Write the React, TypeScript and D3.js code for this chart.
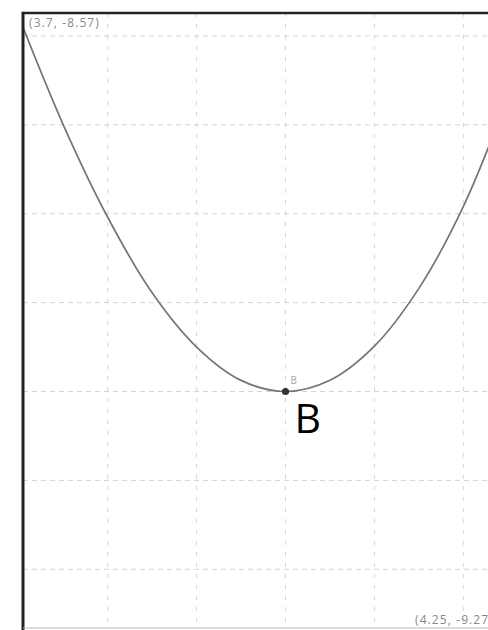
import React from "react";
import * as d3 from "d3";

// Curve samples (x, y) along the plotted function
const curveX = [3.705, 3.75, 3.8, 3.85, 3.9, 3.95, 4.0, 4.05, 4.1, 4.15, 4.2, 4.25];
const curveY = [-8.591, -8.7, -8.804, -8.889, -8.95, -8.9875, -9.0, -8.9874, -8.949, -8.884, -8.792, -8.669];

// Marked point
const pointName = "B";
const pointX = [4.0];
const pointY = [-9.0];

// Grid line positions
const gridX = [3.8, 3.9, 4.0, 4.1, 4.2];
const gridY = [-8.6, -8.7, -8.8, -8.9, -9.0, -9.1, -9.2];

// Viewport corner labels
const cornerLabels = ["(3.7, -8.57)", "(4.25, -9.27)"];

const W = 488;
const H = 630;
const frame = { left: 23, top: 13, right: 508, bottom: 628 };

export default function App() {
  const unit = 889;
  const x = d3.scaleLinear().domain([4.0, 4.25]).range([285.5, 285.5 + 0.25 * unit]);
  const y = d3.scaleLinear().domain([-9.0, -8.6]).range([391.5, 391.5 - 0.4 * unit]);

  const pts = curveX.map((v, i) => [v, curveY[i]] as [number, number]);
  const line = d3
    .line<[number, number]>()
    .x((d) => x(d[0]))
    .y((d) => y(d[1]))
    .curve(d3.curveCatmullRom.alpha(0.5));

  const font = "'Open Sans', 'DejaVu Sans', sans-serif";

  return (
    <svg
      width={W}
      height={H}
      style={{ position: "absolute", left: 0, top: 0, background: "#fff" }}
    >
      <defs>
        <clipPath id="plot">
          <rect
            x={frame.left}
            y={frame.top}
            width={frame.right - frame.left}
            height={frame.bottom - frame.top}
          />
        </clipPath>
      </defs>
      <rect x={0} y={0} width={W} height={H} fill="#fff" />
      <g clipPath="url(#plot)">
        {gridY.map((g) => (
          <line
            key={"h" + g}
            x1={frame.left}
            x2={frame.right}
            y1={y(g)}
            y2={y(g)}
            stroke="#d4d4d4"
            strokeWidth={1}
            strokeDasharray="5,4"
          />
        ))}
        {gridX.map((g) => (
          <line
            key={"v" + g}
            x1={x(g)}
            x2={x(g)}
            y1={frame.top}
            y2={frame.bottom}
            stroke="#d4d4d4"
            strokeWidth={1}
            strokeDasharray="4,7"
          />
        ))}
        <path d={line(pts) || ""} fill="none" stroke="#757575" strokeWidth={1.7} />
        {pointX.map((px, i) => (
          <circle key={i} cx={x(px)} cy={y(pointY[i])} r={3.6} fill="#333" />
        ))}
        <text x={x(pointX[0]) + 5} y={y(pointY[0]) - 8} fontSize={10} fill="#a8a8a8" fontFamily={font}>
          {pointName}
        </text>
        <text x={29} y={27} fontSize={12} letterSpacing={1.1} fill="#888" fontFamily={font}>
          {cornerLabels[0]}
        </text>
        <text x={415} y={624} fontSize={12} letterSpacing={1.1} fill="#888" fontFamily={font}>
          {cornerLabels[1]}
        </text>
      </g>
      {/* frame edges */}
      <line x1={frame.left} x2={W} y1={frame.top} y2={frame.top} stroke="#222" strokeWidth={2.5} />
      <line x1={frame.left} x2={frame.left} y1={frame.top - 1.2} y2={H} stroke="#222" strokeWidth={3} />
      <line x1={frame.left} x2={W} y1={frame.bottom} y2={frame.bottom} stroke="#bbb" strokeWidth={1} />
      <text x={x(pointX[0]) + 9} y={y(pointY[0]) + 41} fontSize={41} fill="#000" fontFamily={font}>
        {pointName}
      </text>
    </svg>
  );
}
